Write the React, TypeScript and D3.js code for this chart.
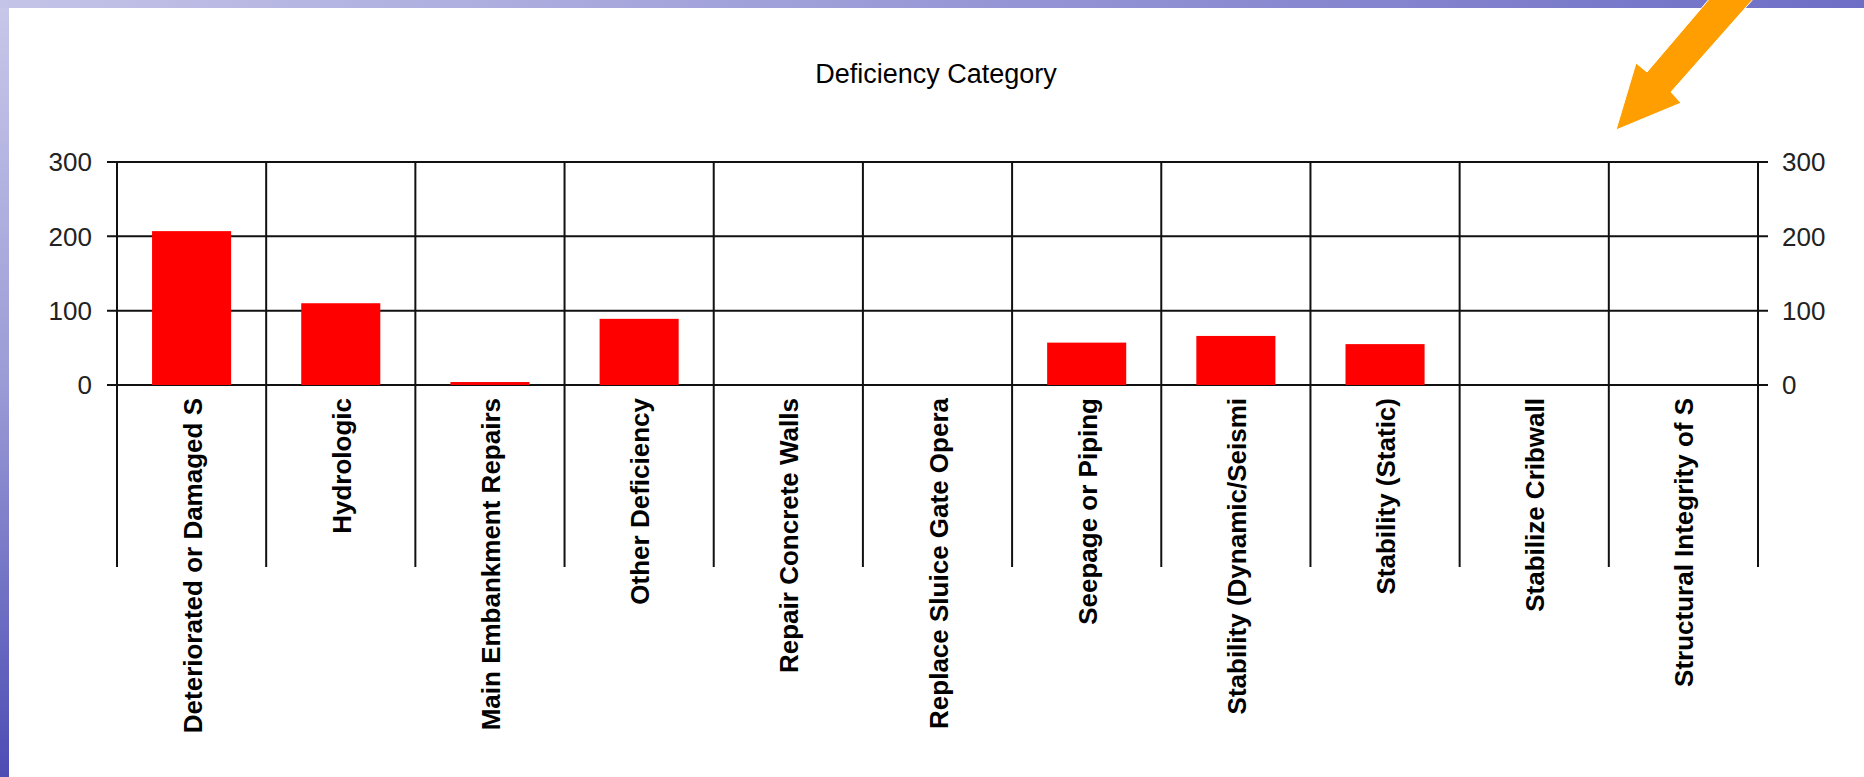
import React, { useEffect, useRef } from 'react';
import * as d3 from 'd3';

const categories = [
  'Deteriorated or Damaged S',
  'Hydrologic',
  'Main Embankment Repairs',
  'Other Deficiency',
  'Repair Concrete Walls',
  'Replace Sluice Gate Opera',
  'Seepage or Piping',
  'Stability (Dynamic/Seismi',
  'Stability (Static)',
  'Stabilize Cribwall',
  'Structural Integrity of S',
];
const counts = [207, 110, 4, 89, 0, 0, 57, 66, 55, 0, 0];
const yTicks = [0, 100, 200, 300];
const title = 'Deficiency Category';

const App: React.FC = () => {
  const svgRef = useRef<SVGSVGElement>(null);

  useEffect(() => {
    if (!svgRef.current) return;
    document.body.style.margin = '0';

    const width = 1864;
    const height = 777;
    const left = 117;
    const right = 1758;
    const top = 162;
    const base = 385;
    const gridBottom = 567;
    const font = 'Arial, "Liberation Sans", sans-serif';

    const svg = d3.select(svgRef.current);
    svg.selectAll('*').remove();

    // slide background: gradient strips + white panel
    const defs = svg.append('defs');
    const topGrad = defs.append('linearGradient').attr('id', 'topStrip').attr('x1', 0).attr('x2', 1).attr('y1', 0).attr('y2', 0);
    topGrad.append('stop').attr('offset', 0).attr('stop-color', '#c4c4e8');
    topGrad.append('stop').attr('offset', 1).attr('stop-color', '#6e6ec6');
    const leftGrad = defs.append('linearGradient').attr('id', 'leftStrip').attr('x1', 0).attr('x2', 0).attr('y1', 0).attr('y2', 1);
    leftGrad.append('stop').attr('offset', 0).attr('stop-color', '#c8c8ea');
    leftGrad.append('stop').attr('offset', 0.5).attr('stop-color', '#9a9ad6');
    leftGrad.append('stop').attr('offset', 1).attr('stop-color', '#4c4cb4');

    svg.append('rect').attr('width', width).attr('height', height).attr('fill', '#fff');
    svg.append('rect').attr('width', 9).attr('height', height).attr('fill', 'url(#leftStrip)');
    svg.append('rect').attr('width', width).attr('height', 8).attr('fill', 'url(#topStrip)');

    const x = d3.scaleBand<string>().domain(categories).range([left, right]).paddingInner(0.47).paddingOuter(0.235);
    const xEdge = d3.scaleLinear().domain([0, categories.length]).range([left, right]);
    const y = d3.scaleLinear().domain([0, 300]).range([base, top]);

    // title
    svg.append('text')
      .attr('x', 936)
      .attr('y', 83)
      .attr('text-anchor', 'middle')
      .attr('font-family', font)
      .attr('font-size', 27)
      .attr('fill', '#000')
      .text(title);

    // horizontal grid lines with ticks on both sides
    svg.selectAll('.hgrid')
      .data(yTicks)
      .enter()
      .append('line')
      .attr('x1', left - 10)
      .attr('x2', right + 10)
      .attr('y1', d => y(d))
      .attr('y2', d => y(d))
      .attr('stroke', '#111')
      .attr('stroke-width', 2);

    // vertical category dividers
    svg.selectAll('.vgrid')
      .data(d3.range(categories.length + 1))
      .enter()
      .append('line')
      .attr('x1', d => xEdge(d))
      .attr('x2', d => xEdge(d))
      .attr('y1', top)
      .attr('y2', gridBottom)
      .attr('stroke', '#111')
      .attr('stroke-width', 2);

    // bars
    svg.selectAll('.bar')
      .data(categories)
      .enter()
      .append('rect')
      .attr('x', d => x(d)!)
      .attr('y', (_, i) => y(counts[i]))
      .attr('width', x.bandwidth())
      .attr('height', (_, i) => base - y(counts[i]))
      .attr('fill', '#ff0000');

    // y labels left and right
    svg.selectAll('.ylabL')
      .data(yTicks)
      .enter()
      .append('text')
      .attr('x', 92)
      .attr('y', d => y(d))
      .attr('dy', '0.36em')
      .attr('text-anchor', 'end')
      .attr('font-family', font)
      .attr('font-size', 26)
      .attr('fill', '#222')
      .text(d => d);

    svg.selectAll('.ylabR')
      .data(yTicks)
      .enter()
      .append('text')
      .attr('x', 1782)
      .attr('y', d => y(d))
      .attr('dy', '0.36em')
      .attr('text-anchor', 'start')
      .attr('font-family', font)
      .attr('font-size', 26)
      .attr('fill', '#222')
      .text(d => d);

    // category labels, rotated
    svg.selectAll('.xlab')
      .data(categories)
      .enter()
      .append('text')
      .attr('transform', d => `translate(${x(d)! + x.bandwidth() / 2 + 10},398) rotate(-90)`)
      .attr('text-anchor', 'end')
      .attr('font-family', font)
      .attr('font-size', 26)
      .attr('font-weight', 'bold')
      .attr('fill', '#000')
      .text(d => d);

    // orange call-out arrow
    const arrow: [number, number][] = [
      [1616, 130], [1636, 63], [1647, 72], [1722, -16], [1770, -20], [1671, 92], [1681, 103],
    ];
    svg.append('polygon')
      .attr('points', arrow.map(p => p.join(',')).join(' '))
      .attr('fill', '#ff9e00')
      .attr('stroke', '#fff')
      .attr('stroke-width', 1);
  }, []);

  return (
    <svg
      ref={svgRef}
      width={1864}
      height={777}
      viewBox="0 0 1864 777"
      style={{ display: 'block', position: 'absolute', left: 0, top: 0 }}
    />
  );
};

export default App;
